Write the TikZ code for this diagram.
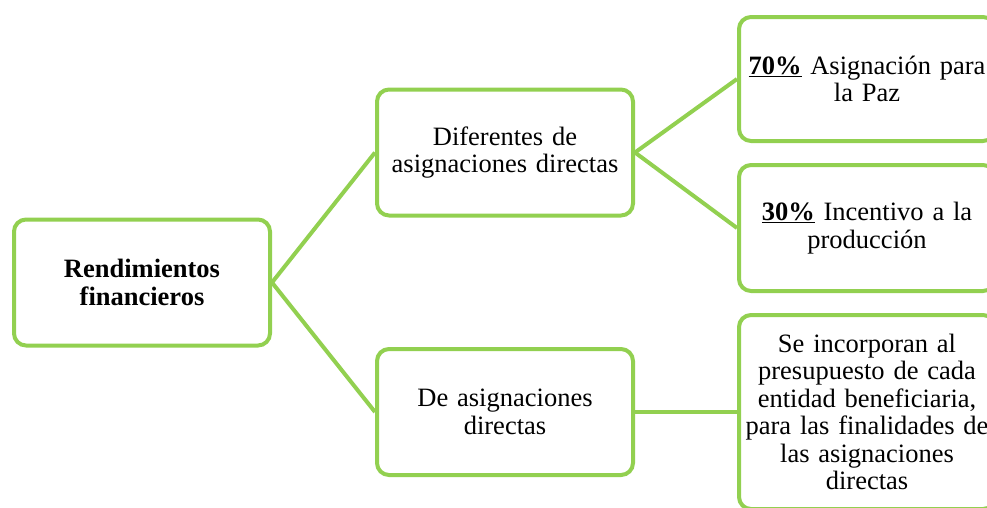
\documentclass[tikz,border=0pt]{standalone}
\usepackage{fontspec}
\setmainfont{Liberation Serif}
\definecolor{lg}{HTML}{92D050}
\begin{document}
\begin{tikzpicture}[x=1pt,y=-1pt,
  box/.style={draw=lg, line width=4pt, rounded corners=12pt, fill=white,
    minimum width=256pt, minimum height=126pt, inner sep=0pt,
    align=center, text width=250pt, font=\fontsize{26.5}{27.5}\selectfont},
  link/.style={draw=lg, line width=4pt}]
\useasboundingbox (0,0) rectangle (987,507);
\node[box] (A) at (142,282.5) {\textbf{Rendimientos}\\\textbf{financieros}};
\node[box] (B) at (505,152.5) {Diferentes de\\asignaciones directas};
\node[box] (C) at (505,412) {De asignaciones\\directas};
\node[box, minimum height=124pt] (D) at (867,79) {\underline{\textbf{70\%}} Asignación para\\la Paz\\[30pt]};
\node[box] (E) at (867,228) {\underline{\textbf{30\%}} Incentivo a la\\producción};
\node[box, minimum height=194pt] (F) at (867,412) {Se incorporan al\\presupuesto de cada\\entidad beneficiaria,\\para las finalidades de\\las asignaciones\\directas};
\draw[link] (A.east) -- (B.west);
\draw[link] (A.east) -- (C.west);
\draw[link] (B.east) -- (D.west);
\draw[link] (B.east) -- (E.west);
\draw[link] (C.east) -- (F.west);
\end{tikzpicture}
\end{document}
